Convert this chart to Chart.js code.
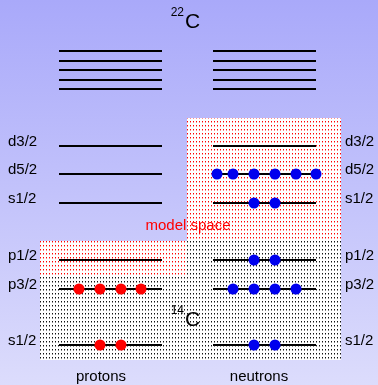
<!DOCTYPE html>
<html>
<head>
<meta charset="utf-8">
<script src="https://cdn.jsdelivr.net/npm/chart.js@4/dist/chart.umd.min.js"></script>
<style>
  html, body { margin: 0; padding: 0; background: #c4c4fa; }
  #wrap { width: 378px; height: 385px; }
</style>
</head>
<body>
<div id="wrap"><canvas id="levels" width="378" height="385"></canvas></div>
<script>
// schematic units: x across the page, y downward (higher level = smaller y)
const protonSpan = [59, 162];
const neutronSpan = [213, 316];
const upperLevels = [51, 61, 70, 80, 89];           // 22C levels above the model space
const levelNames = ['d3/2', 'd5/2', 's1/2', 'p1/2', 'p3/2', 's1/2'];
const levelY = [146, 174, 203, 260, 289, 345];
const protonOcc = [[], [], [], [], [79, 100, 121, 141], [100, 121]];
const neutronOcc = [[], [217, 233, 254, 275, 296, 316], [254, 275], [254, 275], [233, 254, 275, 296], [254, 275]];
// shaded regions [x0, y0, x1, y1]
const coreBox = [40, 241, 341, 360];
const modelSpaceBoxes = [[187, 118, 341, 241], [40, 241, 187, 275]];

function makePattern(dark, light) {
  const c = document.createElement('canvas');
  c.width = 3; c.height = 4;
  const g = c.getContext('2d');
  g.fillStyle = '#ffffff';
  g.fillRect(0, 0, 3, 4);
  g.fillStyle = dark;
  g.fillRect(1, 1, 1, 1);
  g.fillStyle = light;
  g.fillRect(1, 2, 1, 1);
  return g.createPattern(c, 'repeat');
}

const datasets = [];
function addLine(span, y) {
  datasets.push({
    type: 'line',
    data: [{ x: span[0], y: y }, { x: span[1], y: y }],
    borderColor: '#000',
    borderWidth: 2,
    pointRadius: 0,
    order: 2
  });
}
upperLevels.forEach(y => { addLine(protonSpan, y); addLine(neutronSpan, y); });
levelY.forEach(y => { addLine(protonSpan, y); addLine(neutronSpan, y); });

datasets.push({
  type: 'scatter',
  data: protonOcc.flatMap((xs, i) => xs.map(x => ({ x: x, y: levelY[i] }))),
  backgroundColor: '#ff0000',
  borderWidth: 0,
  pointRadius: 5.5,
  order: 1
});
datasets.push({
  type: 'scatter',
  data: neutronOcc.flatMap((xs, i) => xs.map(x => ({ x: x, y: levelY[i] }))),
  backgroundColor: '#0000ee',
  borderWidth: 0,
  pointRadius: 5.5,
  order: 1
});

const backdrop = {
  id: 'backdrop',
  beforeDraw(chart) {
    const { ctx, width, height, scales: { x, y } } = chart;
    const grad = ctx.createLinearGradient(0, 0, 0, height);
    grad.addColorStop(0, '#a9a9fa');
    grad.addColorStop(1, '#dcdcfc');
    ctx.save();
    ctx.fillStyle = grad;
    ctx.fillRect(0, 0, width, height);
    const box = (b, fill) => {
      const x0 = x.getPixelForValue(b[0]), y0 = y.getPixelForValue(b[1]);
      const x1 = x.getPixelForValue(b[2]), y1 = y.getPixelForValue(b[3]);
      ctx.fillStyle = fill;
      ctx.fillRect(x0, y0, x1 - x0, y1 - y0);
    };
    box(coreBox, makePattern('#111111', '#8a8a8a'));
    modelSpaceBoxes.forEach(b => box(b, makePattern('#ff0000', '#ff9090')));
    ctx.restore();
  }
};

const labels = {
  id: 'labels',
  afterDatasetsDraw(chart) {
    const { ctx, scales: { x, y } } = chart;
    const font = 'Liberation Sans, Arial, sans-serif';
    ctx.save();
    ctx.textBaseline = 'middle';
    ctx.fillStyle = '#000';
    ctx.font = '15px ' + font;
    levelNames.forEach((name, i) => {
      const py = y.getPixelForValue(levelY[i]) - 4;
      ctx.textAlign = 'left';
      ctx.fillText(name, x.getPixelForValue(8), py);
      ctx.fillText(name, x.getPixelForValue(345), py);
    });
    ctx.textAlign = 'center';
    ctx.fillText('protons', x.getPixelForValue(101), y.getPixelForValue(377));
    ctx.fillText('neutrons', x.getPixelForValue(259), y.getPixelForValue(377));
    ctx.fillStyle = '#ff0000';
    ctx.fillText('model space', x.getPixelForValue(188), y.getPixelForValue(226));
    // nucleus labels with superscript mass number
    const nucleus = (mass, cx, cy) => {
      ctx.fillStyle = '#000';
      ctx.textAlign = 'right';
      ctx.font = '12px ' + font;
      ctx.fillText(mass, x.getPixelForValue(cx), y.getPixelForValue(cy - 9));
      ctx.textAlign = 'left';
      ctx.font = '21px ' + font;
      ctx.fillText('C', x.getPixelForValue(cx + 1), y.getPixelForValue(cy));
    };
    nucleus('22', 184, 22);
    nucleus('14', 184, 320);
    ctx.restore();
  }
};

new Chart(document.getElementById('levels'), {
  type: 'scatter',
  data: { datasets: datasets },
  options: {
    responsive: false,
    animation: false,
    layout: { padding: 0, autoPadding: false },
    plugins: { legend: { display: false }, tooltip: { enabled: false } },
    scales: {
      x: { type: 'linear', min: 0, max: 378, display: false },
      y: { type: 'linear', min: 0, max: 385, reverse: true, display: false }
    }
  },
  plugins: [backdrop, labels]
});
</script>
</body>
</html>
